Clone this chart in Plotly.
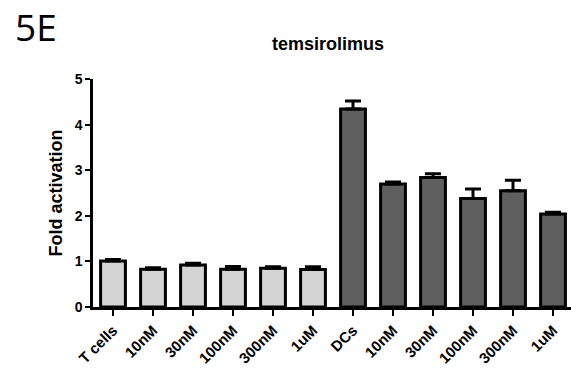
import plotly.graph_objects as go

# Groups and their measured fold activation (mean and upper SEM)
categories = ["T cells", "10nM", "30nM", "100nM", "300nM", "1uM",
              "DCs", "10nM ", "30nM ", "100nM ", "300nM ", "1uM "]
tick_labels = ["T cells", "10nM", "30nM", "100nM", "300nM", "1uM",
               "DCs", "10nM", "30nM", "100nM", "300nM", "1uM"]
means = [1.01, 0.83, 0.92, 0.83, 0.85, 0.82,
         4.34, 2.70, 2.84, 2.38, 2.55, 2.04]
errors = [0.03, 0.03, 0.04, 0.06, 0.03, 0.06,
          0.18, 0.04, 0.08, 0.21, 0.23, 0.04]
group_colors = ["#d4d4d4"] * 6 + ["#5f5f5f"] * 6

font_family = "Liberation Sans, Arial, sans-serif"

fig = go.Figure()
fig.add_trace(go.Bar(
    x=list(range(len(categories))),
    y=means,
    width=0.62,
    marker=dict(color=group_colors, line=dict(color="black", width=3)),
    error_y=dict(type="data", symmetric=False, array=errors,
                 arrayminus=[0] * len(errors),
                 color="black", thickness=3, width=8),
    showlegend=False,
))

fig.update_layout(
    width=571, height=372,
    margin=dict(l=93, r=0, t=79, b=65),
    plot_bgcolor="white", paper_bgcolor="white",
    font=dict(family=font_family, color="black"),
    title=dict(text="<b>temsirolimus</b>", x=328 / 571, xanchor="center",
               xref="container", y=1 - 44 / 372, yanchor="middle", yref="container",
               font=dict(size=18, family=font_family, color="black")),
    annotations=[dict(text="5E", xref="paper", yref="paper",
                      x=-80 / 478, y=1 + (79 - 27) / 228, xanchor="left", yanchor="middle",
                      showarrow=False,
                      font=dict(size=37, family="Open Sans, sans-serif", color="black"))],
)

fig.update_xaxes(
    range=[-0.5, 11.45],
    tickmode="array", tickvals=list(range(len(categories))), ticktext=tick_labels,
    tickangle=-45, ticks="outside", ticklen=6, tickwidth=2, tickcolor="black",
    showline=True, linecolor="black", linewidth=2.5, showgrid=False, zeroline=False,
    tickfont=dict(size=15, family=font_family, color="black", weight="bold"),
)
fig.update_yaxes(
    range=[0, 5], tickvals=[0, 1, 2, 3, 4, 5],
    ticks="outside", ticklen=5, tickwidth=2, tickcolor="black",
    showline=True, linecolor="black", linewidth=2.5, showgrid=False, zeroline=False,
    tickfont=dict(size=14, family=font_family, color="black", weight="bold"),
    title=dict(text="<b>Fold activation</b>", standoff=8,
               font=dict(size=18, family=font_family, color="black")),
)

fig.write_html("out.html")
